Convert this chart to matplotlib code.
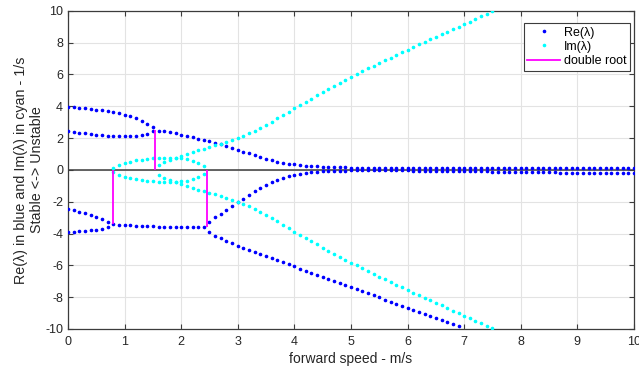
import numpy as np
import matplotlib
matplotlib.use("Agg")
import matplotlib.pyplot as plt

plt.rcParams["font.family"] = ["Liberation Sans", "DejaVu Sans"]
plt.rcParams["axes.unicode_minus"] = False

# eigenvalues, speed step 0.1 m/s
speed = np.round(np.arange(0, 101) * 0.1, 1)

# two real positive roots, 0.0 - 1.5 m/s
re_pos_a = [3.94, 3.92, 3.89, 3.86, 3.83, 3.79, 3.75, 3.69, 3.63, 3.55,
            3.47, 3.37, 3.24, 3.08, 2.91, 2.72]
re_pos_b = [2.45, 2.38, 2.33, 2.29, 2.25, 2.21, 2.17, 2.14, 2.12, 2.11,
            2.10, 2.10, 2.12, 2.17, 2.27, 2.45]

# two real negative roots, 0.0 - 0.7 m/s
re_neg_a = [-2.45, -2.53, -2.62, -2.72, -2.83, -2.94, -3.08, -3.25]
re_neg_b = [-3.90, -3.88, -3.86, -3.84, -3.81, -3.77, -3.70, -3.58]

# first complex pair, 0.8 - 2.4 m/s
re_pair1 = [-3.40, -3.44, -3.47, -3.49, -3.51, -3.53, -3.54, -3.55, -3.56,
            -3.57, -3.58, -3.58, -3.59, -3.59, -3.60, -3.60, -3.60]
im_pair1 = [0.12, 0.30, 0.42, 0.52, 0.59, 0.65, 0.70, 0.73, 0.75, 0.77,
            0.77, 0.75, 0.72, 0.68, 0.56, 0.45, 0.26]

# weave pair, 1.6 - 10.0 m/s
re_weave = [2.47, 2.42, 2.36, 2.29, 2.21, 2.12, 2.04, 1.97, 1.89, 1.79,
            1.70, 1.60, 1.49, 1.38, 1.27, 1.15, 1.03, 0.91, 0.79, 0.69,
            0.60, 0.52, 0.45, 0.39, 0.34, 0.30, 0.27, 0.24, 0.22, 0.20,
            0.18, 0.17, 0.16, 0.15, 0.14, 0.14, 0.13, 0.13, 0.13, 0.13,
            0.13, 0.13, 0.13, 0.13, 0.13, 0.13, 0.13, 0.13, 0.13, 0.13,
            0.13, 0.13, 0.13, 0.13, 0.13, 0.13, 0.13, 0.13, 0.13, 0.13,
            0.14, 0.14, 0.14, 0.14, 0.14, 0.14, 0.14, 0.14, 0.14, 0.14,
            0.14, 0.14, 0.14, 0.14, 0.14, 0.14, 0.14, 0.14, 0.14, 0.14,
            0.14, 0.14, 0.14, 0.14, 0.14]
# weave imaginary part, 1.6 - 7.5 m/s (off scale afterwards)
im_weave = [0.31, 0.50, 0.64, 0.77, 0.88, 1.00, 1.12, 1.24, 1.34, 1.44,
            1.54, 1.64, 1.75, 1.87, 2.01, 2.14, 2.29, 2.45, 2.63, 2.82,
            3.02, 3.23, 3.44, 3.66, 3.88, 4.08, 4.28, 4.48, 4.68, 4.88,
            5.07, 5.26, 5.45, 5.64, 5.83, 6.01, 6.19, 6.37, 6.54, 6.71,
            6.88, 7.05, 7.22, 7.39, 7.56, 7.72, 7.88, 8.04, 8.20, 8.36,
            8.52, 8.68, 8.84, 9.00, 9.16, 9.32, 9.48, 9.64, 9.80, 9.96]

# real roots after the split, 2.5 m/s on
re_rise = [-3.25, -2.97, -2.75, -2.51, -2.27, -2.05, -1.81, -1.58, -1.36, -1.15,
           -0.95, -0.78, -0.63, -0.50, -0.39, -0.31, -0.25, -0.20, -0.16, -0.13,
           -0.10, -0.08, -0.07, -0.06, -0.05, -0.04, -0.04, -0.04, -0.04, -0.04,
           -0.04, -0.04, -0.04, -0.04, -0.04, -0.04, -0.05, -0.05, -0.05, -0.06,
           -0.06, -0.06, -0.07, -0.07, -0.08, -0.08, -0.09, -0.09, -0.10, -0.10,
           -0.11, -0.11, -0.12, -0.12, -0.13, -0.13, -0.14, -0.14, -0.15, -0.15,
           -0.16, -0.16, -0.17, -0.17, -0.18, -0.18, -0.19, -0.19, -0.20, -0.20,
           -0.20, -0.21, -0.21, -0.21, -0.22, -0.22]
re_fall = [-3.92, -4.13, -4.30, -4.46, -4.61, -4.76, -4.90, -5.03, -5.16, -5.29,
           -5.42, -5.55, -5.68, -5.81, -5.94, -6.07, -6.20, -6.33, -6.46, -6.59,
           -6.72, -6.85, -6.98, -7.11, -7.24, -7.37, -7.50, -7.63, -7.76, -7.89,
           -8.02, -8.15, -8.28, -8.41, -8.54, -8.67, -8.80, -8.93, -9.06, -9.19,
           -9.32, -9.45, -9.58, -9.71, -9.84]

# double roots: speed and real value
dr_speed = [0.79, 1.54, 2.45]
dr_value = [-3.42, 2.52, -3.60]


def span(start, values):
    i = int(round(start * 10))
    return speed[i:i + len(values)], np.array(values)


fig = plt.figure(figsize=(6.39, 3.72), dpi=100)
ax = fig.add_axes([0.1064, 0.1156, 0.8857, 0.8556])

blue = "#0000ff"
cyan = "#00ffff"
ms = 3.2

ax.axhline(0, color="#3c3c3c", lw=1.1, zorder=2)

real_parts = [(0.0, re_pos_a), (0.0, re_pos_b), (0.0, re_neg_a), (0.0, re_neg_b),
              (0.8, re_pair1), (1.6, re_weave), (2.5, re_rise), (2.5, re_fall)]
for start, vals in real_parts:
    x, y = span(start, vals)
    ax.plot(x, y, ".", color=blue, ms=ms, zorder=3)

for start, vals in [(0.8, im_pair1), (1.6, im_weave)]:
    x, y = span(start, vals)
    ax.plot(x, y, ".", color=cyan, ms=ms, zorder=3)
    ax.plot(x, -y, ".", color=cyan, ms=ms, zorder=3)

ax.vlines(dr_speed, 0, dr_value, color="#ff00ff", lw=1.3, zorder=4)

# legend handles
h_re, = ax.plot([], [], ".", color=blue, ms=ms)
h_im, = ax.plot([], [], ".", color=cyan, ms=ms)
h_dr, = ax.plot([], [], "-", color="#ff00ff", lw=1.3)
leg = ax.legend([h_re, h_im, h_dr], ["Re(λ)", "Im(λ)", "double root"],
                loc="upper right", bbox_to_anchor=(0.993, 0.962), fontsize=9,
                fancybox=False, framealpha=1, edgecolor="#3c3c3c",
                handlelength=2.6, borderpad=0.3, labelspacing=0.18,
                handletextpad=0.3, borderaxespad=0)
leg.get_frame().set_linewidth(0.8)

ax.set_xlim(0, 10)
ax.set_ylim(-10, 10)
ax.set_xticks(range(0, 11))
ax.set_yticks(range(-10, 11, 2))
ax.grid(True, color="#e3e3e3", lw=0.8)
ax.set_axisbelow(True)
ax.tick_params(direction="in", top=True, right=True, length=3.5,
               labelsize=9, colors="#3c3c3c", labelcolor="#262626")
ax.tick_params(axis="x", pad=5)
for s in ax.spines.values():
    s.set_color("#3c3c3c")
    s.set_linewidth(0.9)

ax.set_xlabel("forward speed - m/s", fontsize=10, color="#262626", labelpad=3)
ax.set_ylabel("Re(λ) in blue and Im(λ) in cyan - 1/s\nStable <-> Unstable",
              fontsize=10.3, color="#262626", linespacing=1.15, labelpad=1)

fig.savefig("out.png", dpi=100)
